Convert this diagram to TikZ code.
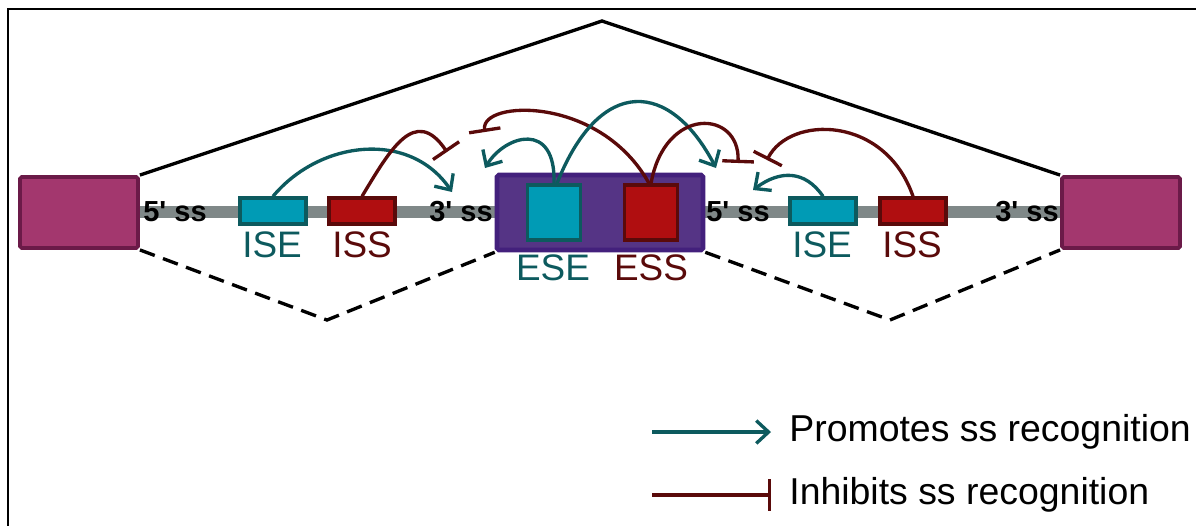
\documentclass[tikz,border=0pt]{standalone}
\usepackage{fontspec}
\setmainfont{Liberation Sans}
\usetikzlibrary{arrows.meta}
\definecolor{exonmag}{HTML}{A3376E}
\definecolor{exonmagb}{HTML}{6B1A48}
\definecolor{intron}{HTML}{7F8888}
\definecolor{tealf}{HTML}{009BB5}
\definecolor{tealb}{HTML}{0D5A5E}
\definecolor{redf}{HTML}{B00E10}
\definecolor{redb}{HTML}{5A0A0A}
\definecolor{purf}{HTML}{553485}
\definecolor{purb}{HTML}{43207C}
\tikzset{
  exonbox/.style={draw=exonmagb, fill=exonmag, line width=2.2pt, rounded corners=1pt},
  ebox/.style={draw=tealb, fill=tealf, line width=1.9pt},
  sbox/.style={draw=redb, fill=redf, line width=1.9pt},
  intronline/.style={draw=intron, line width=6.8pt},
  sslab/.style={font=\fontsize{16.5}{16.5}\selectfont\bfseries, text=black, inner sep=0pt},
  elab/.style={font=\fontsize{21}{21}\selectfont, text=tealb, inner sep=0pt},
  slab/.style={font=\fontsize{21}{21}\selectfont, text=redb, inner sep=0pt},
  promote/.style={draw=tealb, line width=1.9pt, -{Straight Barb[length=7pt,width=13pt,line width=1.9pt]}},
  inhibit/.style={draw=redb, line width=1.9pt, -{Bar[width=18pt,line width=1.9pt]}},
  legtext/.style={font=\fontsize{21.3}{21.3}\selectfont, text=black, anchor=west, inner sep=0pt},
}
\newcommand{\sq}{\textquotesingle}
\begin{document}
\begin{tikzpicture}[x=0.02cm,y=-0.02cm]
\useasboundingbox (0,0) rectangle (1196,525);
% frame
\draw[line width=1.3pt] (8,540) -- (8,9) -- (1210,9);
% intron lines
\draw[intronline] (138,212) -- (497,212);
\draw[intronline] (703,212) -- (1062,212);
% splicing lines
\coordinate (apex) at (602,21);
\coordinate (dl) at (327,320);
\coordinate (dr) at (890,320);
% exons
\node[exonbox, minimum width=118*0.02cm, minimum height=71*0.02cm, inner sep=0pt] (ex1) at (79,212.5) {};
\node[exonbox, minimum width=118*0.02cm, minimum height=71*0.02cm, inner sep=0pt] (ex3) at (1121,212.5) {};
\node[draw=purb, fill=purf, line width=2.6pt, rounded corners=1pt, minimum width=206*0.02cm, minimum height=75*0.02cm, inner sep=0pt] (ex2) at (600,212.5) {};
\draw[line width=1.9pt, line join=miter] (ex1.north east) -- (apex) -- (ex3.north west);
\draw[line width=1.9pt, dashed, dash pattern=on 9pt off 5pt] (ex1.south east) -- (dl) -- (ex2.south west);
\draw[line width=1.9pt, dashed, dash pattern=on 9pt off 5pt] (ex2.south east) -- (dr) -- (ex3.south west);
% ss labels
\node[sslab] (ss5a) at (175,212) {5\sq{} ss};
\node[sslab] (ss3a) at (461,212) {3\sq{} ss};
\node[sslab] (ss5b) at (738,212) {5\sq{} ss};
\node[sslab] (ss3b) at (1027,212) {3\sq{} ss};
% elements
\node[ebox, minimum width=66*0.02cm, minimum height=26*0.02cm, inner sep=0pt] (ise1) at (273,211) {};
\node[sbox, minimum width=66*0.02cm, minimum height=26*0.02cm, inner sep=0pt] (iss1) at (362,211) {};
\node[ebox, minimum width=66*0.02cm, minimum height=26*0.02cm, inner sep=0pt] (ise2) at (823,211) {};
\node[sbox, minimum width=66*0.02cm, minimum height=26*0.02cm, inner sep=0pt] (iss2) at (913,211) {};
\node[ebox, minimum width=53*0.02cm, minimum height=55*0.02cm, inner sep=0pt] (ese) at (554,212.5) {};
\node[sbox, minimum width=53*0.02cm, minimum height=55*0.02cm, inner sep=0pt] (ess) at (651,212.5) {};
\node[elab] at (272,245) {ISE};
\node[slab] at (362,245) {ISS};
\node[elab] at (822,245) {ISE};
\node[slab] at (912,245) {ISS};
\node[elab] at (553,268) {ESE};
\node[slab] at (651,268) {ESS};
% targets
\coordinate (t1) at (452,192);
\coordinate (t2) at (447,152);
\coordinate (t3) at (485,132);
\coordinate (t4) at (485,168);
\coordinate (t5) at (716,168);
\coordinate (t6) at (738,163);
\coordinate (t7) at (767,160);
\coordinate (t8) at (753,190);
% connectors
\draw[promote] (ise1.north) .. controls (320,140) and (410,130) .. (t1);
\draw[inhibit] (iss1.north) .. controls (390,150) and (415,105) .. (t2);
\draw[inhibit] ([xshift=-2*0.02cm]ess.north) .. controls (600,95) and (480,100) .. (t3);
\draw[promote] (ese.north) .. controls (556,120) and (505,135) .. (t4);
\draw[promote] ([xshift=3*0.02cm]ese.north) .. controls (600,75) and (670,80) .. (t5);
\draw[inhibit] (ess.north) .. controls (665,105) and (740,110) .. (t6);
\draw[inhibit] (iss2.north) .. controls (885,115) and (790,115) .. (t7);
\draw[promote] (ise2.north) .. controls (805,170) and (780,170) .. (t8);
% legend
\coordinate (l1a) at (652,432);
\coordinate (l1b) at (771,432);
\coordinate (l2a) at (652,495);
\coordinate (l2b) at (771,495);
\draw[promote] (l1a) -- (l1b);
\draw[inhibit] (l2a) -- (l2b);
\node[legtext] (lt1) at (789,432) {Promotes ss recognition};
\node[legtext] (lt2) at (789,495) {Inhibits ss recognition};
\end{tikzpicture}
\end{document}
